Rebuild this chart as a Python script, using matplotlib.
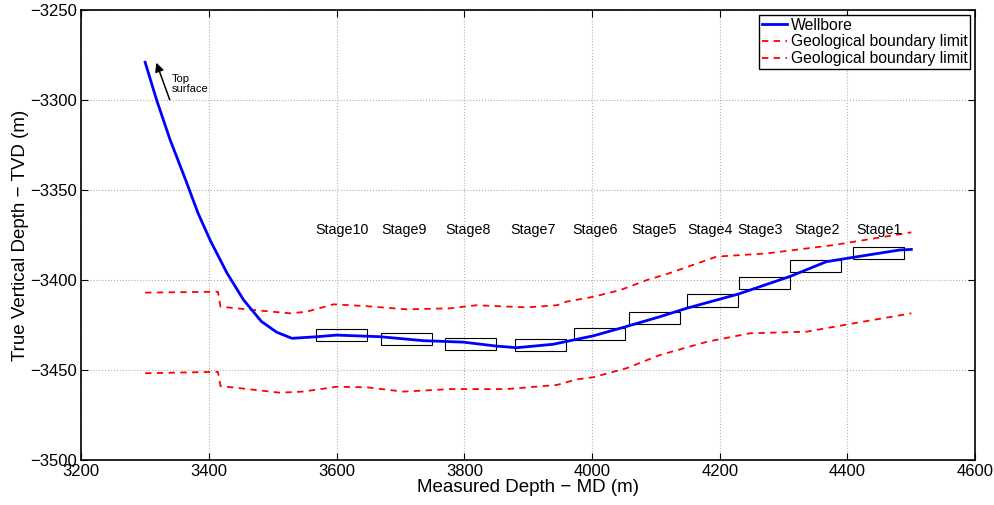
import matplotlib.pyplot as plt
from matplotlib.patches import Rectangle

plt.rcParams['font.family'] = ['Liberation Sans', 'DejaVu Sans']

# trajectory of the wellbore (MD, TVD)
well_md = [3300, 3318, 3339, 3363, 3383, 3402, 3428, 3454, 3482, 3506, 3530, 3569,
           3600, 3668, 3736, 3798, 3850, 3882, 3939, 3971, 4002, 4052, 4106, 4148,
           4229, 4310, 4367, 4409, 4482, 4500]
well_tvd = [-3279, -3300, -3322, -3344, -3363, -3378, -3396, -3411, -3423, -3429, -3432.4, -3431.5,
            -3430.6, -3431.5, -3433.7, -3434.5, -3436.7, -3437.6, -3435.7, -3433.3, -3431, -3426, -3420.4, -3415.7,
            -3407.8, -3398, -3389.8, -3387.4, -3383.3, -3383]

# upper geological boundary
upper_md = [3300, 3414, 3418, 3459, 3527, 3553, 3595, 3642, 3710, 3778, 3819, 3845,
            3898, 3945, 3960, 4002, 4044, 4086, 4117, 4195, 4274, 4378, 4500]
upper_tvd = [-3407, -3406.5, -3414.8, -3416.3, -3418.5, -3417.6, -3413.5, -3414.4, -3416.3, -3415.7, -3414, -3414.4,
             -3415.2, -3414, -3412, -3409.3, -3405.6, -3400, -3396.7, -3387, -3385.2, -3380.6, -3373.5]

# lower geological boundary
lower_md = [3300, 3414, 3418, 3511, 3547, 3600, 3647, 3704, 3778, 3866, 3945, 3976,
            4002, 4054, 4106, 4180, 4247, 4336, 4404, 4500]
lower_tvd = [-3451.8, -3451, -3458.9, -3462.6, -3462, -3459.3, -3459.6, -3462, -3460.6, -3460.6, -3458.3, -3455.2,
             -3454, -3449, -3441.7, -3434.3, -3429.6, -3428.7, -3424.4, -3418.5]

# frac stages
stage_names = ['Stage10', 'Stage9', 'Stage8', 'Stage7', 'Stage6',
               'Stage5', 'Stage4', 'Stage3', 'Stage2', 'Stage1']
stage_start = [3567, 3669, 3770, 3879, 3972, 4058, 4148, 4230, 4310, 4409]
stage_center_tvd = [-3430.5, -3432.8, -3435.5, -3436, -3430, -3421, -3411.4, -3401.7, -3392, -3384.8]
stage_label_md = [3609, 3705, 3806, 3907, 4004, 4097, 4184, 4263, 4352, 4450]
stage_len = 80
stage_h = 6.8

fig = plt.figure(figsize=(9.95, 5.05), dpi=100)
ax = fig.add_axes([0.0817, 0.0891, 0.8984, 0.891])

ax.plot(well_md, well_tvd, color='blue', lw=2, label='Wellbore', zorder=3)
ax.plot(upper_md, upper_tvd, '--', color='red', lw=1.3, dashes=(3.5, 3), label='Geological boundary limit')
ax.plot(lower_md, lower_tvd, '--', color='red', lw=1.3, dashes=(3.5, 3), label='Geological boundary limit')

for name, x0, yc, xl in zip(stage_names, stage_start, stage_center_tvd, stage_label_md):
    ax.add_patch(Rectangle((x0, yc - stage_h / 2), stage_len, stage_h,
                           fill=False, edgecolor='black', lw=0.8, zorder=2))
    ax.text(xl, -3372.2, name, ha='center', va='center', fontsize=10.3)

ax.annotate('', xy=(3316, -3277.8), xytext=(3340, -3301.3),
            arrowprops=dict(arrowstyle='-|>', color='black', lw=1.1, mutation_scale=13))
ax.text(3341, -3291, 'Top\nsurface', fontsize=8, ha='left', va='center', linespacing=1.0)

ax.set_xlim(3200, 4600)
ax.set_ylim(-3500, -3250)
ax.set_xticks(range(3200, 4601, 200))
ax.set_yticks(range(-3500, -3249, 50))
ax.tick_params(direction='in', top=True, right=True, labelsize=12, length=5, pad=3)
ax.grid(True, linestyle=':', color='#b0b0b0', lw=0.8)
for s in ax.spines.values():
    s.set_linewidth(1.2)

ax.set_xlabel('Measured Depth \u2212 MD (m)', fontsize=13.5, labelpad=0)
ax.set_ylabel('True Vertical Depth \u2212 TVD (m)', fontsize=13.5, labelpad=1)

leg = ax.legend(loc='upper right', fontsize=11.3, fancybox=False, edgecolor='black',
                framealpha=1, borderpad=0.2, labelspacing=0.1, handlelength=1.6,
                handletextpad=0.2, borderaxespad=0.3)
leg.get_frame().set_linewidth(1)

fig.savefig('out.png', dpi=100)
